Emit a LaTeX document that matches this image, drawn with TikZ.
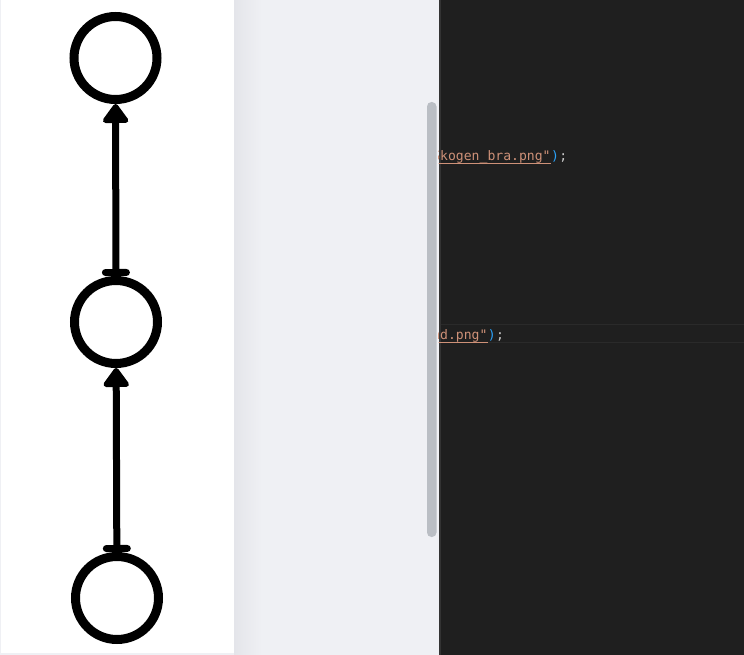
\documentclass[tikz,border=0pt]{standalone}
\usepackage{fontspec}
\setmonofont{DejaVu Sans Mono}
\usetikzlibrary{arrows.meta}

\definecolor{panelgray}{HTML}{EFF0F4}
\definecolor{paneledge}{HTML}{E4E5EA}
\definecolor{scrollgray}{HTML}{BABEC4}
\definecolor{editorbg}{HTML}{1F1F1F}
\definecolor{editoredge}{HTML}{333333}
\definecolor{linehl}{HTML}{2A2A2A}
\definecolor{codestr}{HTML}{CE9178}
\definecolor{codebrk}{HTML}{2AA1F8}
\definecolor{codetxt}{HTML}{CCCCCC}

\tikzset{
  code/.style={font=\fontsize{13.1}{15}\selectfont\ttfamily,anchor=base west,inner sep=0pt}
}

\begin{document}
\begin{tikzpicture}[x=1pt, y=-1pt]
            \tikzstyle{ring}=[circle,draw=black,fill=white,line width=9pt,minimum size=83pt,inner sep=0pt]
            \tikzstyle{link}=[line width=7pt,{Bar[width=21pt,round]}-{Triangle[width=29pt,length=21pt,round]}]

            % panels
            \useasboundingbox (0,0) rectangle (744,655);
            \fill[panelgray] (0,0) rectangle (744,655);
            \fill[white] (1,0) rectangle (234,653);
            \shade[left color=paneledge,right color=panelgray] (234,0) rectangle (262,655);
            \fill[scrollgray,rounded corners=4.5pt] (427,102) rectangle (436.5,537);
            \fill[editoredge] (438.5,0) rectangle (441,655);
            \fill[editorbg] (441,0) rectangle (744,655);
            \fill[linehl] (441,323.5) rectangle (744,325);
            \fill[linehl] (441,341.5) rectangle (744,343);

            % graph
            \node[ring] (G_1) at (115.5,58)  {};
            \node[ring] (G_2) at (116,322)  {};
            \node[ring] (G_3) at (117,598)  {};
            \draw[link] (G_2) -- (G_1);
            \draw[link] (G_3) -- (G_2);

            % editor text
            \begin{scope}
            \clip (438.5,0) rectangle (744,655);
            \node[code,text=codestr] (S_1) at (432.1,160.5) {Skogen\_bra.png"};
            \node[code,text=codebrk] (B_1) at (S_1.base east) {)};
            \node[code,text=codetxt] (E_1) at (B_1.base east) {;};
            \draw[codestr,line width=1pt] ([yshift=-3.5pt]S_1.base west) -- ([yshift=-3.5pt]S_1.base east);
            \node[code,text=codestr] (S_2) at (432.1,339) {nd.png"};
            \node[code,text=codebrk] (B_2) at (S_2.base east) {)};
            \node[code,text=codetxt] (E_2) at (B_2.base east) {;};
            \draw[codestr,line width=1pt] ([yshift=-3.5pt]S_2.base west) -- ([yshift=-3.5pt]S_2.base east);
            \end{scope}
\end{tikzpicture}
\end{document}
